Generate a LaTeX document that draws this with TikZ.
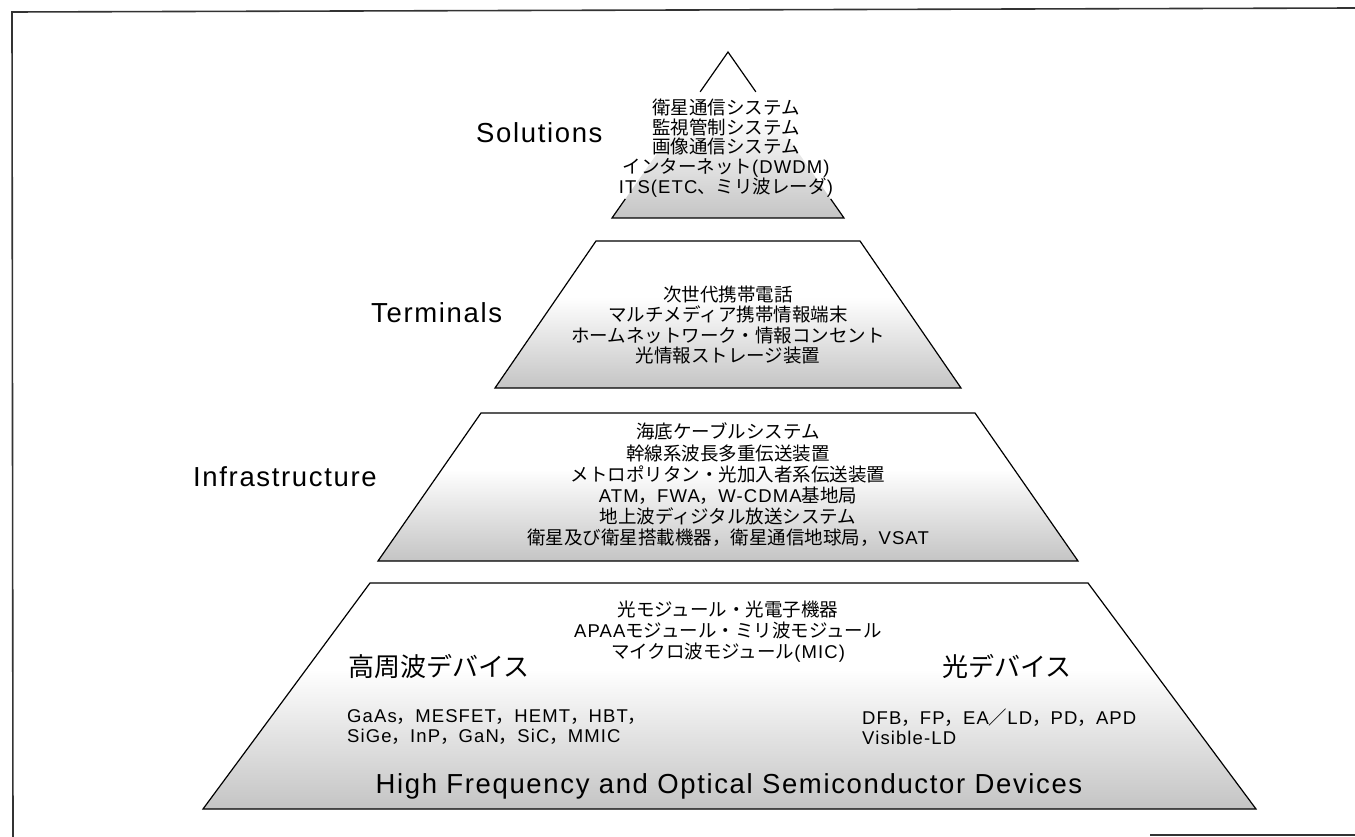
\documentclass[tikz,border=0pt]{standalone}
\usepackage{fontspec}
\usetikzlibrary{calc}
\newfontfamily\jp{Noto Sans CJK JP}
\newfontfamily\lat[LetterSpace=6]{Liberation Sans}
% white at the top of each tier, fading into a light grey at its foot
\pgfdeclareverticalshading{tierfade}{100bp}{%
  color(0bp)=(black!23); color(25bp)=(black!23); color(40bp)=(black!12);
  color(56bp)=(white); color(100bp)=(white)}
\begin{document}
\begin{tikzpicture}[x=1pt,y=-1pt,
  outline/.style={line width=1.2pt, line join=miter, draw=black},
  tier/.style={shading=tierfade, outline},
  frameline/.style={line width=1.6pt, draw=black!80},
  tiertext/.style={font=\jp\fontsize{18.5}{20.6}\selectfont, align=center, inner sep=0pt},
  tierlabel/.style={font=\lat\fontsize{27.5}{30}\selectfont, inner sep=0pt, anchor=base west},
  devlabel/.style={font=\jp\fontsize{26}{30}\selectfont, inner sep=0pt, anchor=west},
  devlist/.style={font=\jp\fontsize{18.5}{19.5}\selectfont, align=left, inner sep=0pt, anchor=west}]
\useasboundingbox (0,0) rectangle (1355,837);

% outer frame
\draw[frameline] (1355,8) -- (12,12) -- (13,837);
\draw[frameline] (1150,835) -- (1355,835);

% apex tier
\coordinate (apex) at (728,52);
\coordinate (solL) at (612,218);
\coordinate (solR) at (844,218);
\shade[shading=tierfade] (apex) -- (solR) -- (solL) -- cycle;
\draw[outline] ($(apex)!0.24!(solL)$) -- (apex) -- ($(apex)!0.24!(solR)$);
\draw[outline] ($(apex)!0.885!(solL)$) -- (solL) -- (solR) -- ($(apex)!0.885!(solR)$);

% terminals tier
\coordinate (tTL) at (596,241);
\coordinate (tTR) at (860,241);
\coordinate (tBR) at (961,388);
\coordinate (tBL) at (495,388);
\shadedraw[tier] (tTL) -- (tTR) -- (tBR) -- (tBL) -- cycle;

% infrastructure tier
\coordinate (iTL) at (481,413);
\coordinate (iTR) at (975,413);
\coordinate (iBR) at (1078,561);
\coordinate (iBL) at (378,561);
\shadedraw[tier] (iTL) -- (iTR) -- (iBR) -- (iBL) -- cycle;

% device tier
\coordinate (dTL) at (370,583);
\coordinate (dTR) at (1088,583);
\coordinate (dBR) at (1256,809);
\coordinate (dBL) at (203,809);
\shadedraw[tier] (dTL) -- (dTR) -- (dBR) -- (dBL) -- cycle;

% tier names
\node[tierlabel] (solutions) at (476,143) {Solutions};
\node[tierlabel] (terminals) at (371,322) {Terminals};
\node[tierlabel] (infra) at (193,486) {Infrastructure};

% tier contents
\node[tiertext, font=\jp\fontsize{18.5}{19.7}\selectfont] (soltext) at (726,148)
  {衛星通信システム\\監視管制システム\\画像通信システム\\インターネット{\lat(DWDM)}\\{\lat ITS(ETC}、ミリ波レーダ{\lat)}};
\node[tiertext] (termtext) at (728,325)
  {次世代携帯電話\\マルチメディア携帯情報端末\\ホームネットワーク・情報コンセント\\光情報ストレージ装置};
\node[tiertext, font=\jp\fontsize{18.5}{21.2}\selectfont] (infratext) at (728,485)
  {海底ケーブルシステム\\幹線系波長多重伝送装置\\メトロポリタン・光加入者系伝送装置\\{\lat ATM}，{\lat FWA}，{\lat W-CDMA}基地局\\地上波ディジタル放送システム\\衛星及び衛星搭載機器，衛星通信地球局，{\lat VSAT}};
\node[tiertext, font=\jp\fontsize{18.5}{21}\selectfont] (modtext) at (728,632)
  {光モジュール・光電子機器\\{\lat APAA}モジュール・ミリ波モジュール\\マイクロ波モジュール{\lat(MIC)}};

% device groups
\node[devlabel] (rfdev) at (348,667) {高周波デバイス};
\node[devlabel] (optdev) at (942,666) {光デバイス};
\node[devlist] (rflist) at (347,727)
  {{\lat GaAs}，{\lat MESFET}，{\lat HEMT}，{\lat HBT}，\\{\lat SiGe}，{\lat InP}，{\lat GaN}，{\lat SiC}，{\lat MMIC}};
\node[devlist] (optlist) at (862,727)
  {{\lat DFB}，{\lat FP}，{\lat EA}／{\lat LD}，{\lat PD}，{\lat APD}\\{\lat Visible-LD}};
\node[tierlabel, anchor=base] (devtitle) at (729,793)
  {High Frequency and Optical Semiconductor Devices};
\end{tikzpicture}
\end{document}
